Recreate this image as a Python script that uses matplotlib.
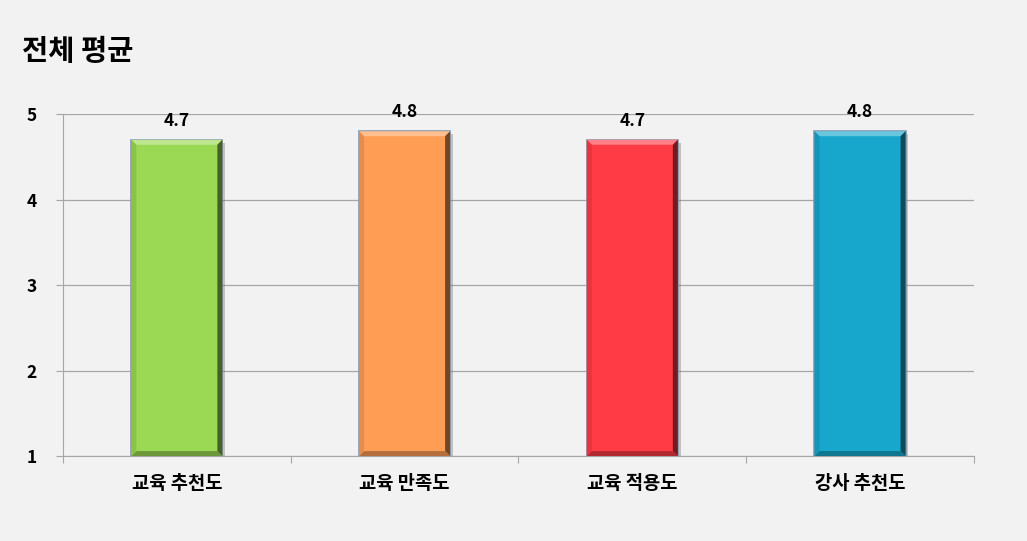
import matplotlib
matplotlib.use("Agg")
import matplotlib.pyplot as plt
import matplotlib.patheffects as pe
from matplotlib.patches import Polygon
from matplotlib.colors import to_rgb

plt.rcParams['font.family'] = ['Noto Sans CJK KR', 'DejaVu Sans']

# 데이터
categories = ['교육 추천도', '교육 만족도', '교육 적용도', '강사 추천도']
values = [4.7, 4.8, 4.7, 4.8]
colors = ['#9bd853', '#ff9d55', '#ff3b46', '#17a7cc']
title = '전체 평균'


def shade(c, f):
    r, g, b = to_rgb(c)
    if f > 0:
        return (r + (1 - r) * f, g + (1 - g) * f, b + (1 - b) * f)
    return (r * (1 + f), g * (1 + f), b * (1 + f))


fig = plt.figure(figsize=(10.27, 5.41), dpi=100)
fig.patch.set_facecolor('#f2f2f2')
ax = fig.add_axes([0.0613, 0.157, 0.887, 0.632])
ax.set_facecolor('#f2f2f2')

x = list(range(len(categories)))
base = 1
width = 0.4
bars = ax.bar(x, [v - base for v in values], bottom=base, width=width,
              color=colors, edgecolor='#8a98b0', linewidth=1.2, zorder=3)
for b in bars:
    b.set_path_effects([pe.SimplePatchShadow(offset=(2, -2), shadow_rgbFace='#555555', alpha=0.3),
                        pe.Normal()])

# 베벨 효과
bx, by = 0.022, 0.058
for xi, v, c in zip(x, values, colors):
    l, r = xi - width / 2, xi + width / 2
    ax.add_patch(Polygon([(l, v), (r, v), (r - bx, v - by), (l + bx, v - by)],
                         color=shade(c, 0.35), zorder=4, lw=0))
    ax.add_patch(Polygon([(r, v), (r, base), (r - bx, base + by), (r - bx, v - by)],
                         color=shade(c, -0.55), zorder=4, lw=0))
    ax.add_patch(Polygon([(l, base), (r, base), (r - bx, base + by), (l + bx, base + by)],
                         color=shade(c, -0.3), zorder=4, lw=0))
    ax.add_patch(Polygon([(l, v), (l, base), (l + bx, base + by), (l + bx, v - by)],
                         color=shade(c, -0.1), zorder=4, lw=0))

# 바 위 값 표시
for xi, v in zip(x, values):
    ax.text(xi, v + 0.12, f'{v:.1f}', ha='center', va='bottom',
            fontsize=12.5, fontweight='bold', zorder=5)

ax.set_xlim(-0.5, len(categories) - 0.5)
ax.set_ylim(1, 5)
ax.set_yticks([1, 2, 3, 4, 5])
ax.set_yticklabels(['1', '2', '3', '4', '5'], fontsize=12.5, fontweight='bold')
ax.yaxis.grid(True, color='#a6a6a6', linewidth=0.9, zorder=0)

ax.set_xticks([i - 0.5 for i in range(len(categories) + 1)])
ax.set_xticklabels([])
ax.set_xticks(x, minor=True)
ax.set_xticklabels(categories, minor=True, fontsize=13.5, fontweight='bold')
ax.tick_params(axis='x', which='minor', length=0, pad=13)
ax.tick_params(axis='x', which='major', length=5, color='#a6a6a6')
ax.tick_params(axis='y', length=5, color='#a6a6a6', pad=14)

for s in ['top', 'right']:
    ax.spines[s].set_visible(False)
ax.spines['left'].set_color('#a6a6a6')
ax.spines['bottom'].set_color('#a6a6a6')

fig.text(0.021, 0.903, title, fontsize=20.5, fontweight='bold', ha='left', va='center')

fig.savefig('out.png', dpi=100, facecolor=fig.get_facecolor())
